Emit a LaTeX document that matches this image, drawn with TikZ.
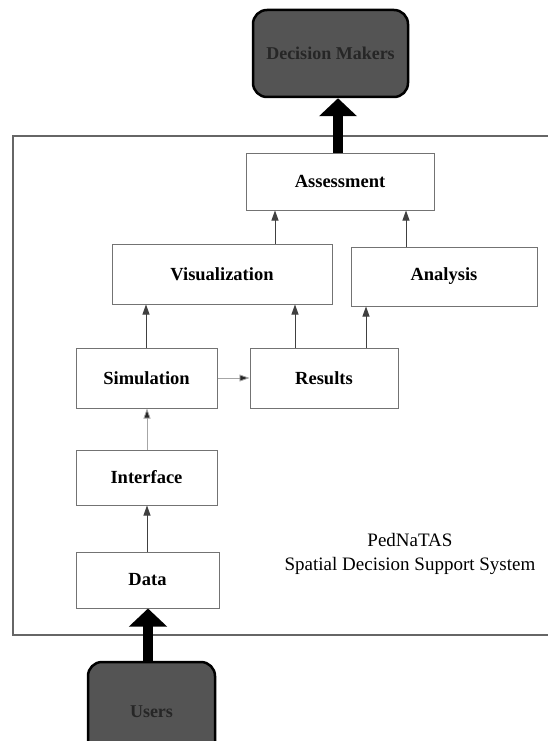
\documentclass[tikz,border=0pt]{standalone}
\usepackage{fontspec}
\setmainfont{Liberation Serif}
\usetikzlibrary{arrows.meta}
\definecolor{boxline}{gray}{0.45}
\definecolor{frameline}{gray}{0.4}
\definecolor{darkfill}{gray}{0.33}
\begin{document}
\begin{tikzpicture}[x=1pt,y=-1pt,
  block/.style={draw=boxline,line width=1pt,fill=white,inner sep=0pt,
    font=\fontsize{18.5}{22}\selectfont\bfseries},
  party/.style={draw=black,line width=2.5pt,fill=darkfill,rounded corners=14pt,
    inner sep=0pt,font=\fontsize{18}{22}\selectfont\bfseries,text=black!85},
  flow/.style={draw=black!75,line width=0.9pt,-{Triangle[width=7pt,length=10pt]}},
  faint/.style={draw=black!35,line width=0.8pt,-{Triangle[width=7pt,length=10pt,fill=black!85]}},
  bigflow/.style={draw=black,line width=10pt,-{Triangle[width=37pt,length=18pt]}}]
\useasboundingbox (0,0) rectangle (548,741);

% system frame (its right side runs off the page)
\draw[frameline,line width=1.3pt] (570,136) -- (13,136) -- (13,635) -- (570,635);

% components of the support system
\node[block,minimum width=188pt,minimum height=57pt] (assess) at (340,181.5) {Assessment};
\node[block,minimum width=220pt,minimum height=60pt] (vis) at (222,274) {Visualization};
\node[block,minimum width=186pt,minimum height=59pt] (analysis) at (444,276.5) {Analysis};
\node[block,minimum width=141pt,minimum height=60pt] (sim) at (146.5,378) {Simulation};
\node[block,minimum width=148pt,minimum height=60pt] (results) at (324,378) {Results};
\node[block,minimum width=141pt,minimum height=55pt] (iface) at (146.5,477.5) {Interface};
\node[block,minimum width=143pt,minimum height=56pt] (data) at (147.5,580) {Data};

\node[align=center,font=\fontsize{19}{24}\selectfont] (label) at (410,554)
  {PedNaTAS\\Spatial Decision Support System};

% outside parties
\node[party,minimum width=155pt,minimum height=87pt] (top) at (330.5,53.5) {Decision Makers};
\node[party,minimum width=127pt,minimum height=100pt] (bottom) at (151.5,712) {Users};

% connector positions
\coordinate (xva) at (275,0);
\coordinate (xaa) at (406,0);
\coordinate (xrv) at (295,0);
\coordinate (xra) at (366,0);
\coordinate (xsv) at (146,0);
\coordinate (xin) at (147,0);
\coordinate (xbt) at (338,0);
\coordinate (xbb) at (148,0);

\draw[flow] (vis.north -| xva) -- (assess.south -| xva);
\draw[flow] (analysis.north -| xaa) -- (assess.south -| xaa);
\draw[flow] (results.north -| xrv) -- (vis.south -| xrv);
\draw[flow] (results.north -| xra) -- (analysis.south -| xra);
\draw[flow] (sim.north -| xsv) -- (vis.south -| xsv);
\draw[faint] (sim.east) -- (results.west);
\draw[faint] (iface.north -| xin) -- (sim.south -| xin);
\draw[flow] (data.north -| xin) -- (iface.south -| xin);

% thick arrows to and from the outside parties
\draw[bigflow] (assess.north -| xbt) -- (top.south -| xbt);
\draw[bigflow] (bottom.north -| xbb) -- (data.south -| xbb);
\end{tikzpicture}
\end{document}
